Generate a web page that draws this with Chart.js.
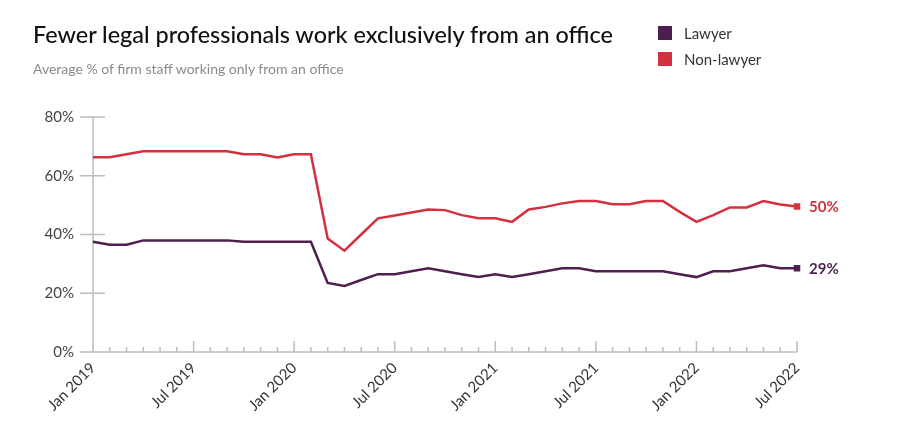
<!DOCTYPE html>
<html>
<head>
<meta charset="utf-8">
<script src="https://cdn.jsdelivr.net/npm/chart.js@4.4.1/dist/chart.umd.min.js"></script>
<style>
  body { margin: 0; background: #fff; font-family: Lato, "Noto Sans", sans-serif; }
  #wrap { position: relative; width: 924px; height: 442px; }
  #title { position: absolute; left: 33px; top: 23px; margin: 0; font-size: 23.4px; line-height: 1; font-weight: 500; color: #111; white-space: nowrap; }
  #sub { position: absolute; left: 33px; top: 62px; font-size: 14px; line-height: 1; color: #8a8a8a; }
  .leg { position: absolute; left: 658px; font-size: 15px; line-height: 14px; color: #333; }
  .leg span { display: inline-block; width: 14px; height: 14px; vertical-align: top; margin-right: 12px; }
  canvas { position: absolute; left: 0; top: 0; }
</style>
</head>
<body>
<div id="wrap">
  <canvas id="chart" width="924" height="442"></canvas>
  <h1 id="title">Fewer legal professionals work exclusively from an office</h1>
  <div id="sub">Average % of firm staff working only from an office</div>
  <div class="leg" style="top:26px"><span style="background:#4d1f4f"></span>Lawyer</div>
  <div class="leg" style="top:52px"><span style="background:#d33040"></span>Non-lawyer</div>
</div>
<script>
const months = [
  'Jan 2019', 'Feb 2019', 'Mar 2019', 'Apr 2019', 'May 2019', 'Jun 2019',
  'Jul 2019', 'Aug 2019', 'Sep 2019', 'Oct 2019', 'Nov 2019', 'Dec 2019',
  'Jan 2020', 'Feb 2020', 'Mar 2020', 'Apr 2020', 'May 2020', 'Jun 2020',
  'Jul 2020', 'Aug 2020', 'Sep 2020', 'Oct 2020', 'Nov 2020', 'Dec 2020',
  'Jan 2021', 'Feb 2021', 'Mar 2021', 'Apr 2021', 'May 2021', 'Jun 2021',
  'Jul 2021', 'Aug 2021', 'Sep 2021', 'Oct 2021', 'Nov 2021', 'Dec 2021',
  'Jan 2022', 'Feb 2022', 'Mar 2022', 'Apr 2022', 'May 2022', 'Jun 2022',
  'Jul 2022'
];
const lawyer = [
  37.5, 36.5, 36.5, 38, 38, 38, 38, 38, 38, 37.5, 37.5, 37.5,
  37.5, 37.5, 23.5, 22.5, 24.5, 26.5, 26.5, 27.5, 28.5, 27.5, 26.5, 25.5,
  26.5, 25.5, 26.5, 27.5, 28.5, 28.5, 27.5, 27.5, 27.5, 27.5, 27.5, 26.5,
  25.5, 27.5, 27.5, 28.5, 29.5, 28.5, 28.5
];
const nonLawyer = [
  66.3, 66.3, 67.3, 68.3, 68.3, 68.3, 68.3, 68.3, 68.3, 67.3, 67.3, 66.2,
  67.3, 67.3, 38.6, 34.5, 40, 45.5, 46.5, 47.5, 48.5, 48.3, 46.6, 45.5,
  45.5, 44.3, 48.5, 49.4, 50.6, 51.4, 51.4, 50.3, 50.3, 51.4, 51.4, 47.7,
  44.3, 46.6, 49.2, 49.2, 51.4, 50.2, 49.5
];
const yTicks = [0, 20, 40, 60, 80];

const lastIdx = months.length - 1;
const axisColor = '#bdbdbd';

// axis lines + tick marks drawn from the scales
const axesPlugin = {
  id: 'axes',
  beforeDatasetsDraw(chart) {
    const { ctx, chartArea: a, scales: { x, y } } = chart;
    ctx.save();
    ctx.strokeStyle = axisColor;
    ctx.lineWidth = 1.5;
    ctx.beginPath();
    ctx.moveTo(a.left, y.getPixelForValue(80));
    ctx.lineTo(a.left, a.bottom);
    ctx.moveTo(a.left - 13, a.bottom);
    ctx.lineTo(a.right, a.bottom);
    yTicks.forEach(v => {
      if (v === 0) return;
      const py = y.getPixelForValue(v);
      ctx.moveTo(a.left - 13, py);
      ctx.lineTo(a.left + 12, py);
    });
    months.forEach((m, i) => {
      if (i === 0) return;
      const px = x.getPixelForValue(i);
      ctx.moveTo(px, a.bottom);
      ctx.lineTo(px, a.bottom - (i % 6 === 0 ? 11 : 5));
    });
    ctx.stroke();
    ctx.restore();
  },
  afterDatasetsDraw(chart) {
    const { ctx } = chart;
    ctx.save();
    ctx.font = 'bold 15px Lato, sans-serif';
    ctx.textBaseline = 'middle';
    chart.data.datasets.forEach((ds, i) => {
      const pt = chart.getDatasetMeta(i).data[lastIdx];
      ctx.fillStyle = ds.borderColor;
      ctx.fillText(Math.round(ds.data[lastIdx]) + '%', pt.x + 12, pt.y + 1);
    });
    ctx.restore();
  }
};

const endPoint = c => c.dataIndex === lastIdx ? 4.6 : 0;

new Chart(document.getElementById('chart'), {
  type: 'line',
  data: {
    labels: months,
    datasets: [
      {
        label: 'Lawyer',
        data: lawyer,
        borderColor: '#4d1f4f',
        backgroundColor: '#4d1f4f',
        borderWidth: 2.5,
        tension: 0,
        pointStyle: 'rect',
        pointRadius: endPoint,
        pointBorderWidth: 0,
      },
      {
        label: 'Non-lawyer',
        data: nonLawyer,
        borderColor: '#d33040',
        backgroundColor: '#d33040',
        borderWidth: 2.5,
        tension: 0,
        pointStyle: 'rect',
        pointRadius: endPoint,
        pointBorderWidth: 0,
      }
    ]
  },
  options: {
    responsive: false,
    animation: false,
    layout: { padding: { top: 117, right: 127, bottom: 30, left: 0 } },
    plugins: {
      legend: { display: false },
      tooltip: { enabled: false }
    },
    scales: {
      x: {
        offset: false,
        grid: { display: false, drawTicks: false },
        border: { display: false },
        afterFit: s => { s.height = 60; },
        ticks: {
          autoSkip: false,
          minRotation: 45,
          maxRotation: 45,
          padding: 7,
          color: '#333',
          font: { family: 'Lato', size: 15 },
          callback: (v, i) => i % 6 === 0 ? months[i] : ''
        }
      },
      y: {
        min: 0,
        max: 80,
        grid: { display: false, drawTicks: false },
        border: { display: false },
        afterFit: s => { s.width = 93; },
        afterBuildTicks: s => { s.ticks = yTicks.map(v => ({ value: v })); },
        ticks: {
          padding: 19,
          color: '#444',
          font: { family: 'Lato', size: 15 },
          callback: v => v + '%'
        }
      }
    }
  },
  plugins: [axesPlugin]
});
</script>
</body>
</html>
